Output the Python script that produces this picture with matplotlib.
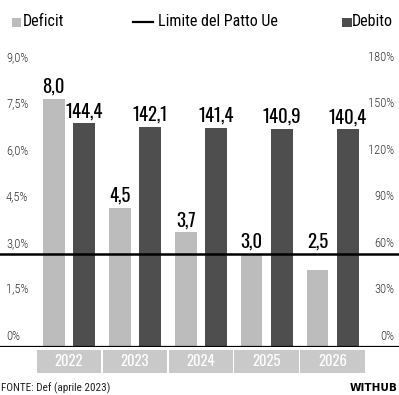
import matplotlib
matplotlib.use("Agg")
import matplotlib.pyplot as plt
from matplotlib.patches import Rectangle
from matplotlib.lines import Line2D
import matplotlib.transforms as mtransforms

years = ["2022", "2023", "2024", "2025", "2026"]
deficit = [8.0, 4.5, 3.7, 3.0, 2.5]
debito = [144.4, 142.1, 141.4, 140.9, 140.4]
limite = 3.0
left_ticks = [0, 1.5, 3.0, 4.5, 6.0, 7.5, 9.0]
left_labels = ["0%", "1,5%", "3,0%", "4,5%", "6,0%", "7,5%", "9,0%"]
right_ticks = [0, 30, 60, 90, 120, 150, 180]
right_labels = ["0%", "30%", "60%", "90%", "120%", "150%", "180%"]

W, H = 399, 395
fig = plt.figure(figsize=(W / 100, H / 100), dpi=100)

BOLDC = ["Oswald", "Roboto Condensed", "DejaVu Sans"]
REGC = ["Roboto Condensed", "Oswald", "DejaVu Sans"]

# pixel geometry
x0_px, dx_px = 69.0, 65.9
y0_px, y9_px = 347.0, 68.0
ax = fig.add_axes([0, (H - y0_px) / H, 1, (y0_px - y9_px) / H])
ax.set_xlim((0 - x0_px) / dx_px, (W - x0_px) / dx_px)
ax.set_ylim(0, 9)
ax.axis("off")

C_DEF = "#bcbcbc"
C_DEB = "#4e4e4e"
bw = 0.33
off = 0.23
scale = 9 / 180.0

for i, (d, b) in enumerate(zip(deficit, debito)):
    ax.bar(i - off, d, width=bw, color=C_DEF, zorder=2)
    ax.bar(i + off, b * scale, width=bw, color=C_DEB, zorder=2)
    ax.text(i - off, max(d, limite) + 0.1, f"{d:.1f}".replace(".", ","), ha="center",
            va="bottom", fontsize=13.5, fontweight="bold", color="black", zorder=4,
            family=BOLDC)
    ax.text(i + off, b * scale + 0.1, f"{b:.1f}".replace(".", ","), ha="center", va="bottom",
            fontsize=13.5, fontweight="bold", color="black", zorder=4, family=BOLDC)

# limit line and baseline
ax.axhline(limite, color="black", lw=1.8, zorder=3)
ax.axhline(0, color="black", lw=1.6, zorder=3)

# left / right tick labels
tl = mtransforms.blended_transform_factory(fig.transFigure, ax.transData)
for v, lab in zip(left_ticks, left_labels):
    ax.text(6 / W, v + 0.14, lab, transform=tl, ha="left", va="bottom",
            fontsize=9, fontweight="light", color="#333333", family=REGC)
for v, lab in zip(right_ticks, right_labels):
    ax.text(394 / W, v * scale + 0.14, lab, transform=tl, ha="right", va="bottom",
            fontsize=9, fontweight="light", color="#333333", family=REGC)

# year boxes
box_ax = fig.add_axes([0, (H - 373) / H, 1, 23 / H])
box_ax.set_xlim(ax.get_xlim())
box_ax.set_ylim(0, 1)
box_ax.axis("off")
for i, y in enumerate(years):
    box_ax.add_patch(Rectangle((i - 0.49, 0), 0.98, 1, color="#c9c9c9", lw=0))
    box_ax.text(i, 0.48, y, ha="center", va="center", color="white",
                fontsize=10.5, fontweight="bold", family=BOLDC)

# legend
fig.patches.append(Rectangle((12 / W, 1 - 27 / H), 9 / W, 9 / H, transform=fig.transFigure,
                             color=C_DEF, lw=0))
fig.text(23 / W, 1 - 22 / H, "Deficit", ha="left", va="center", fontsize=11.5, family=REGC)
fig.lines.append(Line2D([133 / W, 153 / W], [1 - 22 / H, 1 - 22 / H], transform=fig.transFigure,
                        color="black", lw=1.6))
fig.text(158 / W, 1 - 22 / H, "Limite del Patto Ue", ha="left", va="center", fontsize=11.5,
         family=REGC)
fig.patches.append(Rectangle((342 / W, 1 - 27 / H), 10 / W, 9 / H, transform=fig.transFigure,
                             color=C_DEB, lw=0))
fig.text(352 / W, 1 - 22 / H, "Debito", ha="left", va="center", fontsize=11.5, family=REGC)

# footer
fig.text(1 / W, 1 - 388 / H, "FONTE: Def (aprile 2023)", ha="left", va="center",
         fontsize=8, color="#222222", family=REGC)
fig.text(398 / W, 1 - 388 / H, "WITHUB", ha="right", va="center", fontsize=7.5,
         fontweight="bold", color="black", family=["DejaVu Sans"])

fig.savefig("out.png", dpi=100)
